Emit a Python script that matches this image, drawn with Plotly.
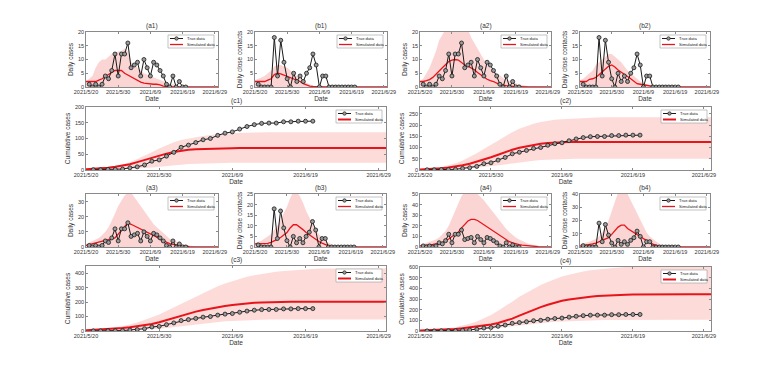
import pandas as pd
import plotly.graph_objects as go

W, H = 781, 366
# a pagina tem margem de 8 px no body
OFF = 8

# Datas
sim_dates = pd.date_range('2021-05-20', '2021-06-30', freq='D')
true_dates = pd.date_range('2021-05-21', '2021-06-20', freq='D')
tick_dates = ['2021-05-20', '2021-05-30', '2021-06-09', '2021-06-19', '2021-06-29']
tick_text = ['2021/5/20', '2021/5/30', '2021/6/9', '2021/6/19', '2021/6/29']

# Dados reais
true_daily = [1, 0, 1, 0, 1, 4, 3, 6, 12, 4, 12, 12, 16, 7, 8, 9, 4, 10, 7, 4,
              9, 8, 6, 4, 1, 0, 4, 0, 2, 0, 0]
true_contacts = [1, 0, 0, 0, 0, 18, 4, 17, 9, 3, 0, 5, 2, 4, 2, 5, 7, 12, 8, 0,
                 4, 4, 0, 0, 0, 0, 0, 0, 0, 0, 0]
true_cumulative = [1, 1, 2, 2, 3, 7, 10, 16, 28, 32, 44, 56, 72, 79, 87, 96, 100, 110, 117, 121,
                   130, 138, 144, 148, 149, 149, 153, 153, 155, 155, 155]

# Dados simulados (mediana) e envelope das simulacoes
a1_sim = [2, 2, 2, 2, 2.5, 3, 3.8, 4.5, 5.3, 6, 6, 6, 5, 4.3, 3.7, 3, 2.5, 1.8, 1.4, 1.2,
          1.1, 1, 1, 0.8, 0.3, 0.1, 0, 0, 0, 0, 0, 0, 0, 0, 0, 0, 0, 0, 0, 0, 0, 0]
a1_hi = [2, 3, 4, 7, 9, 10, 10, 11, 12, 12.5, 13, 13, 14, 13, 9, 8, 7, 6, 5, 4.5,
         4, 3.5, 3, 2.5, 2, 1.5, 1.2, 1, 0.6, 0.3, 0.1, 0, 0, 0, 0, 0, 0, 0, 0, 0, 0, 0]

b1_sim = [2, 2, 2, 2, 2.5, 3, 4.5, 5, 4.8, 4.3, 4, 3.5, 3, 2.5, 2, 1.2, 0.6, 0.3, 0.2, 0.1,
          0, 0, 0, 0, 0, 0, 0, 0, 0, 0, 0, 0, 0, 0, 0, 0, 0, 0, 0, 0, 0, 0]
b1_hi = [2.5, 3, 3.5, 4, 5, 6, 7.5, 8, 8, 7.5, 7, 6, 5, 4, 3, 2, 1.5, 1, 0.5, 0.3,
         0.1, 0, 0, 0, 0, 0, 0, 0, 0, 0, 0, 0, 0, 0, 0, 0, 0, 0, 0, 0, 0, 0]

a2_sim = [2, 2, 2.3, 2.7, 3.5, 4.5, 5.8, 7, 8.2, 9.3, 9.8, 10, 9.8, 9, 8, 7.6, 7, 6.3, 5.3, 4.5,
          3.5, 2.8, 2.3, 2, 1.4, 1, 0.7, 0.5, 0.3, 0.2, 0.1, 0.1, 0, 0, 0, 0, 0, 0, 0, 0, 0, 0]
a2_hi = [2, 3, 5, 7, 10, 13, 17, 19, 21, 21, 21, 21, 21, 21, 21, 21, 18, 16, 14, 12,
         10, 8, 7, 6, 5, 4, 3.3, 2.7, 2.2, 1.8, 1.4, 1, 0.7, 0.5, 0.3, 0.2, 0.1, 0, 0, 0, 0, 0]

b2_sim = [2, 2, 2, 2.8, 3, 3.5, 4.5, 5.5, 6.3, 7.5, 8, 7.3, 6.2, 5.5, 4.5, 3.8, 3, 2.2, 1.2, 1,
          0.8, 0.5, 0.3, 0.1, 0, 0, 0, 0, 0, 0, 0, 0, 0, 0, 0, 0, 0, 0, 0, 0, 0, 0]
b2_hi = [2.5, 3, 4, 5, 6, 8, 9, 10, 11, 12, 12, 11, 10, 9, 7.5, 6, 5, 4, 3, 2,
         1.5, 1, 0.6, 0.3, 0.1, 0, 0, 0, 0, 0, 0, 0, 0, 0, 0, 0, 0, 0, 0, 0, 0, 0]

c1_sim = [2, 3, 5, 7, 10, 14, 18, 25, 32, 40, 46, 52, 57, 61, 64, 66, 67, 67.5, 68, 68.5,
          69, 69.5, 69.5, 70, 70, 70, 70, 70, 70, 70, 70, 70, 70, 70, 70, 70, 70, 70, 70, 70, 70, 70]
c1_hi = [3, 4, 6, 9, 12, 18, 25, 35, 45, 56, 68, 78, 88, 95, 100, 105, 108, 111, 114, 116,
         117, 118, 119, 119, 120, 120, 120, 120, 120, 120, 120, 120, 120, 120, 120, 120, 120, 120,
         120, 120, 120, 120]
c1_lo = [0, 0, 0.5, 1, 1.5, 2, 3, 4, 6, 8, 10, 13, 15, 17, 19, 20, 21, 22, 22, 23,
         23, 23, 23, 23, 23, 23, 23, 23, 23, 23, 23, 23, 23, 23, 23, 23, 23, 23, 23, 23, 23, 23]

c2_sim = [2, 3, 5, 8, 11, 15, 21, 28, 37, 47, 57, 68, 80, 90, 99, 106, 112, 117, 120, 122,
          123, 124, 124.5, 125, 125, 125, 125, 125, 125, 125, 125, 125, 125, 125, 125, 125, 125,
          125, 125, 125, 125, 125]
c2_hi = [3, 5, 8, 13, 20, 30, 42, 57, 75, 93, 112, 130, 150, 168, 183, 196, 206, 213, 219, 223,
         226, 228, 230, 231, 232, 233, 234, 234, 235, 235, 235, 235, 235, 235, 235, 235, 235, 235,
         235, 235, 235, 235]
c2_lo = [0, 0.5, 1, 1.5, 2, 3, 5, 7, 10, 13, 16, 20, 25, 29, 34, 38, 41, 44, 46, 47,
         48, 49, 50, 50, 50, 50, 50, 50, 50, 50, 50, 50, 50, 50, 50, 50, 50, 50, 50, 50, 50, 50]

a3_sim = [1, 1.5, 2, 2.5, 3, 3.5, 4, 4.5, 5, 6, 8.5, 11, 13.5, 16, 15, 14, 12.7, 11.5, 10.5, 9.5,
          8.5, 7.5, 6.5, 5, 4, 3, 2.2, 1.7, 1.3, 1, 0.7, 0.4, 0.2, 0, 0, 0, 0, 0, 0, 0, 0, 0]
a3_hi = [2, 3, 4, 5, 6, 8, 10, 13, 17, 22, 27, 31, 34, 36, 36, 33, 30, 27, 24, 21,
         18, 15, 13, 11, 9, 7, 5.5, 4.5, 3.5, 2.5, 2, 1.5, 1, 0.5, 0.3, 0.1, 0, 0, 0, 0, 0, 0]

b3_sim = [1.5, 1.5, 1.5, 1.5, 1.7, 2.2, 2.8, 3.6, 4.5, 5.5, 6.8, 9, 10.5, 10.5, 9.5, 8.2, 6.8, 5.7,
          4.8, 3.8, 2.6, 1.8, 1, 0.5, 0.2, 0, 0, 0, 0, 0, 0, 0, 0, 0, 0, 0, 0, 0, 0, 0, 0, 0]
b3_hi = [2, 2.5, 3, 4, 5, 6, 8, 10, 13, 16, 19, 23, 26, 26, 24, 21, 17, 14, 11, 8,
         6, 4.5, 3, 2, 1.2, 0.6, 0.3, 0.1, 0, 0, 0, 0, 0, 0, 0, 0, 0, 0, 0, 0, 0, 0]

a4_sim = [1, 1.2, 1.5, 2, 2.5, 3, 3.3, 4.5, 6, 7.5, 10, 12, 14, 18, 21.5, 24.5, 26, 26, 25, 23,
          21, 19, 17, 15, 12.7, 10.5, 8.3, 6.5, 5, 3.8, 2.7, 2.2, 1.7, 1.3, 1, 0.7, 0.5, 0.3,
          0.2, 0.1, 0, 0]
a4_hi = [2, 3, 4, 5, 6, 7, 9, 12, 15, 20, 27, 34, 42, 48, 52, 52, 52, 52, 50, 47,
         44, 40, 36, 32, 28, 24, 20, 17, 14, 11, 9, 7, 5.5, 4, 3, 2.2, 1.5, 1, 0.7, 0.4, 0.2, 0.1]

b4_sim = [0.7, 1, 1.3, 1.7, 2.3, 3, 4, 5, 5.8, 7, 9.5, 12.5, 15, 16.5, 16.5, 14, 12.5, 11, 9.5,
          7.8, 6, 4.5, 3.3, 2.2, 1.2, 0.6, 0.2, 0, 0, 0, 0, 0, 0, 0, 0, 0, 0, 0, 0, 0, 0, 0]
b4_hi = [2, 2.5, 3, 4, 5, 6, 8, 11, 15, 20, 27, 34, 41, 42, 42, 40, 35, 30, 25, 20,
         15, 11, 8, 6, 4, 2.5, 1.5, 1, 0.5, 0.3, 0.1, 0, 0, 0, 0, 0, 0, 0, 0, 0, 0, 0]

c3_sim = [5, 7, 9, 12, 15, 20, 26, 33, 40, 49, 61, 76, 92, 107, 122, 134, 146, 156, 165, 173,
          180, 186, 191, 195, 198, 200, 201, 202, 202, 202, 202, 202, 202, 202, 202, 202, 202,
          202, 202, 202, 202, 202]
c3_hi = [6, 9, 12, 18, 25, 34, 45, 58, 75, 95, 115, 140, 165, 190, 215, 240, 265, 288, 310, 328,
         345, 360, 375, 386, 395, 403, 410, 415, 420, 424, 428, 430, 432, 433, 434, 435, 435, 435,
         435, 435, 435, 435]
c3_lo = [0, 0, 0.5, 1, 2, 3, 4, 6, 8, 11, 15, 20, 26, 33, 40, 46, 52, 58, 63, 67,
         70, 73, 75, 77, 78, 79, 79, 80, 80, 80, 80, 80, 80, 80, 80, 80, 80, 80, 80, 80, 80, 80]

c4_sim = [4, 6, 8, 11, 14, 18, 25, 33, 41, 51, 62, 75, 93, 116, 144, 173, 200, 224, 246, 266,
          283, 296, 307, 315, 322, 328, 333, 336, 339, 341, 342, 343, 344, 344, 344, 344, 344,
          344, 344, 344, 344, 344]
c4_hi = [6, 9, 12, 18, 25, 36, 50, 68, 90, 118, 150, 190, 230, 275, 320, 360, 400, 432, 460, 487,
         510, 528, 545, 558, 570, 578, 585, 590, 595, 600, 605, 610, 610, 610, 610, 610, 610,
         610, 610, 610, 610, 610]
c4_lo = [0, 0, 0.5, 1, 2, 3, 4, 6, 9, 14, 20, 27, 35, 44, 52, 60, 68, 75, 81, 86,
         90, 93, 96, 98, 100, 101, 102, 103, 104, 104, 105, 105, 105, 105, 105, 105, 105, 105,
         105, 105, 105, 105]

FONTE = 'Liberation Sans, Arial, sans-serif'
ROSA = 'rgba(246,150,145,0.40)'
ROSA_CUM = 'rgba(246,150,145,0.34)'
VERMELHO = '#e8141b'
PRETO = '#1a1a1a'

# (nome, caixa em px (esq, dir, topo, base), titulo y, ymax, dtick, real, sim, alto, baixo)
paineis = [
    ('a1', (86, 218, 32, 87), 'Daily cases', 20, 5, true_daily, a1_sim, a1_hi, None),
    ('b1', (255, 387, 32, 87), 'Daily close contacts', 20, 5, true_contacts, b1_sim, b1_hi, None),
    ('a2', (420, 551, 32, 87), 'Daily cases', 20, 5, true_daily, a2_sim, a2_hi, None),
    ('b2', (580, 710, 32, 87), 'Daily close contacts', 20, 5, true_contacts, b2_sim, b2_hi, None),
    ('c1', (86, 386, 107, 170), 'Cumulative cases', 200, 50, true_cumulative, c1_sim, c1_hi, c1_lo),
    ('c2', (420, 711, 107, 170), 'Cumulative cases', 280, 50, true_cumulative, c2_sim, c2_hi, c2_lo),
    ('a3', (86, 218, 194, 247), 'Daily cases', 35, 10, true_daily, a3_sim, a3_hi, None),
    ('b3', (255, 386, 194, 247), 'Daily close contacts', 25, 5, true_contacts, b3_sim, b3_hi, None),
    ('a4', (420, 551, 194, 247), 'Daily cases', 50, 10, true_daily, a4_sim, a4_hi, None),
    ('b4', (580, 710, 194, 247), 'Daily close contacts', 40, 10, true_contacts, b4_sim, b4_hi, None),
    ('c3', (86, 386, 266, 331), 'Cumulative cases', 450, 100, true_cumulative, c3_sim, c3_hi, c3_lo),
    ('c4', (420, 711, 267, 331), 'Cumulative cases', 600, 100, true_cumulative, c4_sim, c4_hi, c4_lo),
]


def adicionar_legenda(fig, xa, ya, caixa, largura_sim):
    """Legenda pequena no canto superior direito de cada painel"""
    l, r, t, b = caixa
    pw, ph = r - l, b - t
    ref = dict(xref=f'{xa} domain', yref=f'{ya} domain')
    x0, x1 = 1 - 50 / pw, 1 - 4 / pw
    y0, y1 = 1 - 16 / ph, 1 - 3 / ph
    fig.add_shape(type='rect', x0=x0, x1=x1, y0=y0, y1=y1, fillcolor='white',
                  line=dict(color='#9a9a9a', width=0.6), **ref)
    linha1, linha2 = 1 - 6.5 / ph, 1 - 12.5 / ph
    fig.add_shape(type='line', x0=x0 + 2 / pw, x1=x0 + 15 / pw, y0=linha1, y1=linha1,
                  line=dict(color=PRETO, width=1), **ref)
    fig.add_shape(type='circle', x0=x0 + 6.8 / pw, x1=x0 + 10.2 / pw,
                  y0=linha1 - 1.7 / ph, y1=linha1 + 1.7 / ph,
                  fillcolor='#9a9a9a', line=dict(color=PRETO, width=0.7), **ref)
    fig.add_shape(type='line', x0=x0 + 2 / pw, x1=x0 + 15 / pw, y0=linha2, y1=linha2,
                  line=dict(color=VERMELHO, width=largura_sim), **ref)
    for texto, yy in (('True data', linha1), ('Simulated data', linha2)):
        fig.add_annotation(text=texto, x=x0 + 16.5 / pw, y=yy, xanchor='left', yanchor='middle',
                           showarrow=False, font=dict(size=4.2, color='#222', family=FONTE), **ref)


fig = go.Figure()
layout = {}
for i, (nome, caixa, ytitulo, ymax, dtick, real, sim, alto, baixo) in enumerate(paineis, start=1):
    sufixo = '' if i == 1 else str(i)
    xa, ya = 'x' + sufixo, 'y' + sufixo
    cumulativo = baixo is not None
    largura_sim = 2 if cumulativo else 1.3

    # Envelope das simulacoes
    if cumulativo:
        fig.add_trace(go.Scatter(x=sim_dates, y=baixo, mode='lines', line=dict(width=0),
                                 xaxis=xa, yaxis=ya, hoverinfo='skip'))
        preenchimento, cor = 'tonexty', ROSA_CUM
    else:
        preenchimento, cor = 'tozeroy', ROSA
    fig.add_trace(go.Scatter(x=sim_dates, y=alto, mode='lines', line=dict(width=0),
                             fill=preenchimento, fillcolor=cor, xaxis=xa, yaxis=ya, hoverinfo='skip'))

    fig.add_trace(go.Scatter(x=sim_dates, y=sim, mode='lines', name='Simulated data',
                             line=dict(color=VERMELHO, width=largura_sim), xaxis=xa, yaxis=ya))
    fig.add_trace(go.Scatter(x=true_dates, y=real, mode='lines+markers', name='True data',
                             line=dict(color=PRETO, width=1),
                             marker=dict(symbol='circle', size=4, color='#9a9a9a',
                                         line=dict(color=PRETO, width=0.8)),
                             xaxis=xa, yaxis=ya))

    l, r, t, b = caixa
    eixo_comum = dict(showline=True, linecolor='#8a8a8a', linewidth=0.6, mirror='ticks',
                      ticks='inside', ticklen=2, tickwidth=0.6, tickcolor='#8a8a8a',
                      showgrid=False, zeroline=False, automargin=False,
                      tickfont=dict(size=5.5, color='#333', family=FONTE))
    layout['xaxis' + sufixo] = dict(
        eixo_comum, domain=[(l - OFF) / W, (r - OFF) / W], anchor=ya, type='date',
        range=['2021-05-20', '2021-06-30'], tickvals=tick_dates, ticktext=tick_text,
        title=dict(text='Date', font=dict(size=6.5, color='#333', family=FONTE), standoff=2))
    layout['yaxis' + sufixo] = dict(
        eixo_comum, domain=[1 - (b - OFF) / H, 1 - (t - OFF) / H], anchor=xa, range=[0, ymax],
        tick0=0, dtick=dtick,
        title=dict(text=ytitulo, font=dict(size=6.5, color='#333', family=FONTE), standoff=3))

    fig.add_annotation(text=f'({nome})', x=0.5, y=1, xref=f'{xa} domain', yref=f'{ya} domain',
                       xanchor='center', yanchor='bottom', showarrow=False,
                       font=dict(size=6.5, color='#333', family=FONTE))
    adicionar_legenda(fig, xa, ya, caixa, largura_sim)

fig.update_layout(**layout)
fig.update_layout(width=W, height=H, margin=dict(l=0, r=0, t=0, b=0),
                  paper_bgcolor='white', plot_bgcolor='white', showlegend=False,
                  font=dict(family=FONTE))

fig.write_html('out.html')
